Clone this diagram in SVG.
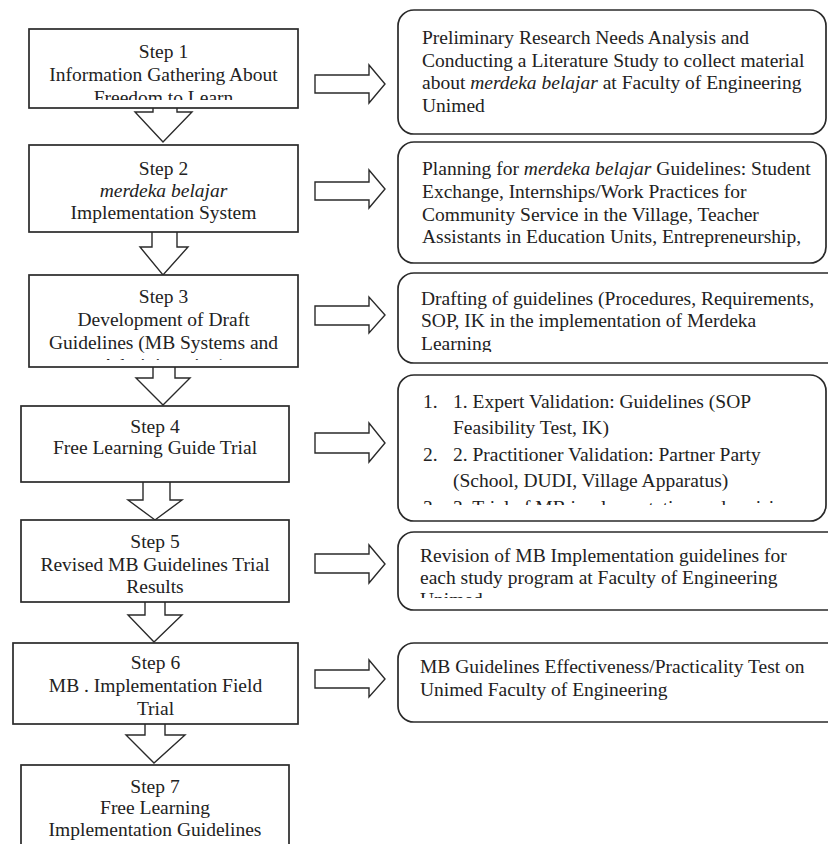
<svg xmlns="http://www.w3.org/2000/svg" width="828" height="844" viewBox="0 0 828 844">
<style>
.box{fill:#fff;stroke:#2a2a2a;stroke-width:1.7}
.arr{fill:#fff;stroke:#2a2a2a;stroke-width:1.4;stroke-linejoin:miter}
text{font-family:"Liberation Serif","Times New Roman",serif;font-size:19.5px;fill:#222}
.c{text-anchor:middle}
.it{font-style:italic}
</style>
<defs>
<clipPath id="cS1"><rect x="29" y="29" width="269" height="71"/></clipPath>
<clipPath id="cS3"><rect x="29" y="275" width="269" height="85"/></clipPath>
<clipPath id="cR3"><rect x="398" y="273" width="430" height="79"/></clipPath>
<clipPath id="cR4"><rect x="398" y="375" width="430" height="130"/></clipPath>
<clipPath id="cR5"><rect x="398" y="532" width="430" height="66"/></clipPath>
</defs>
<rect width="828" height="844" fill="#fff"/>

<g id="connectors">
<polyline class="arr" points="153,108 153,112 135,112 163,142 192,112 177,112 177,108"/>
<polyline class="arr" points="152,232 152,247 140,247 163,275 188,247 177,247 177,232"/>
<polyline class="arr" points="153,367 153,378 136,378 163,405 190,378 175,378 175,367"/>
<polyline class="arr" points="143,482 143,500 128,500 155,520 182,500 170,500 170,482"/>
<polyline class="arr" points="145,602 145,615 128,615 154,642 182,615 165,615 165,602"/>
<polyline class="arr" points="145,724 145,735 126,735 154,763 185,735 165,735 165,724"/>
<polygon class="arr" points="315,75 369,75 369,65 385,84 369,103 369,93 315,93"/>
<polygon class="arr" points="315,182 369,182 369,170 385,189 369,208 369,200 315,200"/>
<polygon class="arr" points="315,306 369,306 369,297 385,315 369,333 369,325 315,325"/>
<polygon class="arr" points="315,433 369,433 369,423 385,443 369,462 369,453 315,453"/>
<polygon class="arr" points="315,554 369,554 369,545 385,564 369,583 369,573 315,573"/>
<polygon class="arr" points="315,670 369,670 369,660 385,679 369,697 369,688 315,688"/>
</g>

<g id="step1">
<rect class="box" x="29" y="29" width="269" height="79"/>
<g clip-path="url(#cS1)">
<text class="c" x="163.5" y="58">Step 1</text>
<text class="c" x="163.5" y="81">Information Gathering About</text>
<text class="c" x="163.5" y="104">Freedom to Learn</text>
</g>
</g>

<g id="step2">
<rect class="box" x="29" y="145" width="269" height="87"/>
<text class="c" x="163.5" y="175">Step 2</text>
<text class="c it" x="163.5" y="197">merdeka belajar</text>
<text class="c" x="163.5" y="219">Implementation System</text>
</g>

<g id="step3">
<rect class="box" x="29" y="275" width="269" height="92"/>
<g clip-path="url(#cS3)">
<text class="c" x="163.5" y="303">Step 3</text>
<text class="c" x="163.5" y="326">Development of Draft</text>
<text class="c" x="163.5" y="349">Guidelines (MB Systems and</text>
<text class="c" x="163.5" y="372">Administration)</text>
</g>
</g>

<g id="step4">
<rect class="box" x="21" y="406" width="268" height="76"/>
<text class="c" x="155" y="433">Step 4</text>
<text class="c" x="155" y="454">Free Learning Guide Trial</text>
</g>

<g id="step5">
<rect class="box" x="21" y="520" width="268" height="82"/>
<text class="c" x="155" y="548">Step 5</text>
<text class="c" x="155" y="571">Revised MB Guidelines Trial</text>
<text class="c" x="155" y="593">Results</text>
</g>

<g id="step6">
<rect class="box" x="13" y="643" width="285" height="81"/>
<text class="c" x="155.5" y="669">Step 6</text>
<text class="c" x="155.5" y="692">MB . Implementation Field</text>
<text class="c" x="155.5" y="715">Trial</text>
</g>

<g id="step7">
<rect class="box" x="21" y="765" width="268" height="100"/>
<text class="c" x="155" y="793">Step 7</text>
<text class="c" x="155" y="814">Free Learning</text>
<text class="c" x="155" y="836">Implementation Guidelines</text>
</g>

<g id="result1">
<rect class="box" x="398" y="10" width="428" height="124" rx="16" ry="16"/>
<text x="422" y="44">Preliminary Research Needs Analysis and</text>
<text x="422" y="66.5">Conducting a Literature Study to collect material</text>
<text x="422" y="89">about <tspan class="it">merdeka belajar</tspan> at Faculty of Engineering</text>
<text x="422" y="112">Unimed</text>
</g>

<g id="result2">
<rect class="box" x="398" y="142" width="428" height="121" rx="16" ry="16"/>
<text x="422" y="175">Planning for <tspan class="it">merdeka belajar</tspan> Guidelines: Student</text>
<text x="422" y="198">Exchange, Internships/Work Practices for</text>
<text x="422" y="221">Community Service in the Village, Teacher</text>
<text x="422" y="243">Assistants in Education Units, Entrepreneurship,</text>
</g>

<g id="result3">
<rect class="box" x="398" y="273" width="470" height="90" rx="16" ry="16"/>
<g clip-path="url(#cR3)">
<text x="421" y="305">Drafting of guidelines (Procedures, Requirements,</text>
<text x="421" y="327">SOP, IK in the implementation of Merdeka</text>
<text x="421" y="350">Learning</text>
</g>
</g>

<g id="result4">
<rect class="box" x="398" y="375" width="428" height="146" rx="16" ry="16"/>
<g clip-path="url(#cR4)">
<text x="423" y="408">1.</text>
<text x="453" y="408">1. Expert Validation: Guidelines (SOP</text>
<text x="453" y="434">Feasibility Test, IK)</text>
<text x="423" y="461">2.</text>
<text x="453" y="461">2. Practitioner Validation: Partner Party</text>
<text x="453" y="487">(School, DUDI, Village Apparatus)</text>
<text x="423" y="514">3.</text>
<text x="453" y="514">3. Trial of MB implementation and revision</text>
</g>
</g>

<g id="result5">
<rect class="box" x="398" y="532" width="470" height="78" rx="16" ry="16"/>
<g clip-path="url(#cR5)">
<text x="420" y="562">Revision of MB Implementation guidelines for</text>
<text x="420" y="584">each study program at Faculty of Engineering</text>
<text x="420" y="606">Unimed</text>
</g>
</g>

<g id="result6">
<rect class="box" x="398" y="643" width="470" height="79" rx="16" ry="16"/>
<text x="420" y="673">MB Guidelines Effectiveness/Practicality Test on</text>
<text x="420" y="696">Unimed Faculty of Engineering</text>
</g>
</svg>
